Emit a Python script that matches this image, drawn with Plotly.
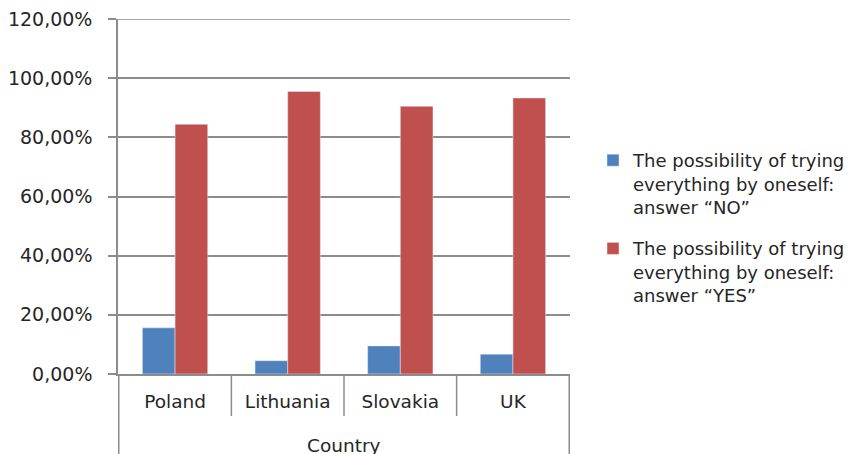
import plotly.graph_objects as go

countries = ["Poland", "Lithuania", "Slovakia", "UK"]
no_values = [15.6, 4.5, 9.5, 6.7]
yes_values = [84.4, 95.5, 90.5, 93.3]
series_names = [
    "The possibility of trying<br>everything by oneself:<br>answer “NO”",
    "The possibility of trying<br>everything by oneself:<br>answer “YES”",
]
y_ticks = [0, 20, 40, 60, 80, 100, 120]
y_ticktext = [f"{v:.2f}".replace(".", ",") + "%" for v in y_ticks]
axis_title = "Country"

FONT = "DejaVu Sans"
GRAY = "#8c8c8c"
TXT = "#262626"
OFF = 8  # page body margin offset

L, T = 118 - OFF, 19 - OFF
PW, PH = 452, 355
W, H = 851, 454
R = W - L - PW
B = H - T - PH
AXIS_Y = 374

fig = go.Figure()
fig.add_trace(go.Bar(x=countries, y=no_values, name=series_names[0],
                     marker_color="#4F81BD", legendgroup="a"))
fig.add_trace(go.Bar(x=countries, y=yes_values, name=series_names[1],
                     marker_color="#C0504D", legendgroup="b"))

shapes = []
for i in range(len(countries) + 1):
    outer = i == 0 or i == len(countries)
    depth = (454 - AXIS_Y) if outer else (416 - AXIS_Y)
    shapes.append(dict(type="line", xref="x", yref="paper",
                       x0=i - 0.5, x1=i - 0.5, y0=0, y1=-depth / PH,
                       line=dict(color=GRAY, width=1.5)))
# top gridline (plotly clips gridlines at the range edge)
shapes.append(dict(type="line", xref="paper", yref="y",
                   x0=-8 / PW, x1=1, y0=y_ticks[-1], y1=y_ticks[-1],
                   line=dict(color=GRAY, width=1.5)))

legend_left = 634 - OFF - 41
legend_top = 142 - OFF

fig.update_layout(
    width=W, height=H,
    margin=dict(l=L, r=R, t=T, b=B, autoexpand=False),
    paper_bgcolor="white", plot_bgcolor="white",
    font=dict(family=FONT, size=18, color=TXT),
    barmode="group", bargap=0.42, bargroupgap=0,
    showlegend=True,
    legend=dict(x=(legend_left - L) / PW, xanchor="left",
                y=1 - (legend_top - T) / PH, yanchor="top",
                valign="top", tracegroupgap=15, traceorder="grouped",
                bgcolor="rgba(0,0,0,0)",
                font=dict(family=FONT, size=18, color=TXT)),
    shapes=shapes,
    annotations=[dict(text=axis_title, xref="paper", yref="paper",
                      x=0.5, y=-(445 - AXIS_Y) / PH, showarrow=False,
                      xanchor="center", yanchor="middle",
                      font=dict(family=FONT, size=18.5, color=TXT))],
)
fig.update_xaxes(showline=True, linecolor=GRAY, linewidth=1.5, ticks="",
                 showgrid=False, ticklabelstandoff=10, automargin=False,
                 tickfont=dict(family=FONT, size=18.5, color=TXT))
fig.update_yaxes(range=[0, 120], tickvals=y_ticks, ticktext=y_ticktext,
                 showline=True, linecolor=GRAY, linewidth=1.5, automargin=False,
                 ticks="outside", ticklen=8, tickcolor=GRAY, tickwidth=1.5,
                 ticklabelstandoff=12, ticklabeloverflow="allow",
                 showgrid=True, gridcolor=GRAY, gridwidth=1.5, zeroline=False,
                 tickfont=dict(family=FONT, size=19, color=TXT))

fig.write_html("out.html")
